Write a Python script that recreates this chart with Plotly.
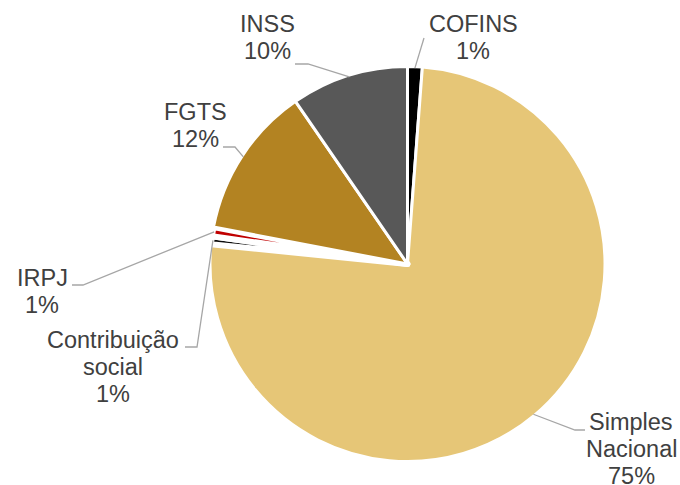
import math
import plotly.graph_objects as go

# ---- data ----
categories = ["COFINS", "Simples Nacional", "Contribuição social", "IRPJ", "FGTS", "INSS"]
values = [1.2, 75.4, 0.65, 0.75, 12.4, 9.6]
label_lines = [["COFINS"], ["Simples", "Nacional"], ["Contribuição", "social"], ["IRPJ"], ["FGTS"], ["INSS"]]
colors = ["#000000", "#E6C677", "#0D0D0D", "#C00000", "#B38322", "#585858"]
border_widths = [3, 3, 6, 6, 3, 3]

# ---- layout constants (pixels) ----
W, H = 680, 485
CX, CY, R = 407.5, 264.0, 197.5
FONT = 23.5
LINE_GAP = 27
TEXT_COLOR = "#404040"
LEADER_COLOR = "#A6A6A6"

label_pos = {  # center x, first baseline y
    "COFINS": (473, 32),
    "Simples Nacional": (631, 430),
    "Contribuição social": (112.5, 348),
    "IRPJ": (42, 286),
    "FGTS": (195, 120),
    "INSS": (267, 32),
}
leader_pts = {  # label-side points of leader lines
    "COFINS": [(424, 38)],
    "Simples Nacional": [(585, 430), (575, 430)],
    "Contribuição social": [(185, 347), (197, 347)],
    "IRPJ": [(72, 285), (83, 285)],
    "FGTS": [(223, 147), (235, 147)],
    "INSS": [(295, 64), (308, 64)],
}


def px(x):
    return x / W


def py(y):
    return 1 - y / H


fig = go.Figure(go.Pie(
    labels=categories,
    values=values,
    sort=False,
    direction="clockwise",
    rotation=0,
    marker=dict(colors=colors, line=dict(color="white", width=border_widths)),
    textinfo="none",
    hoverinfo="label+percent",
    domain=dict(x=[px(CX - R), px(CX + R)], y=[py(CY + R), py(CY - R)]),
    showlegend=False,
))

total = sum(values)
annotations = []
shapes = []
cum = 0.0
rv = R - 1.5
for cat, v, lines in zip(categories, values, label_lines):
    mid = (cum + v / 2) / total * 2 * math.pi
    cum += v
    sx = CX + rv * math.sin(mid)
    sy = CY - rv * math.cos(mid)
    pct = int(100 * v / total + 0.5)
    texts = lines + [f"{pct}%"]
    lx, ly = label_pos[cat]
    for i, t in enumerate(texts):
        base = ly + i * LINE_GAP
        annotations.append(dict(
            x=px(lx), y=py(base - 0.33 * FONT), xref="paper", yref="paper",
            text=t, showarrow=False, xanchor="center", yanchor="middle",
            font=dict(family="Liberation Sans, Arial, sans-serif", size=FONT, color=TEXT_COLOR),
        ))
    pts = leader_pts[cat] + [(sx, sy)]
    path = "M " + " L ".join(f"{px(x):.5f},{py(y):.5f}" for x, y in pts)
    shapes.append(dict(type="path", path=path, xref="paper", yref="paper",
                       line=dict(color=LEADER_COLOR, width=1.3)))

fig.update_layout(
    width=W, height=H,
    margin=dict(l=0, r=0, t=0, b=0),
    paper_bgcolor="white",
    plot_bgcolor="white",
    annotations=annotations,
    shapes=shapes,
)

fig.write_html(
    "out.html",
    config={"displayModeBar": False},
    post_script="document.body.style.margin='0px';document.body.style.overflow='hidden';",
)
